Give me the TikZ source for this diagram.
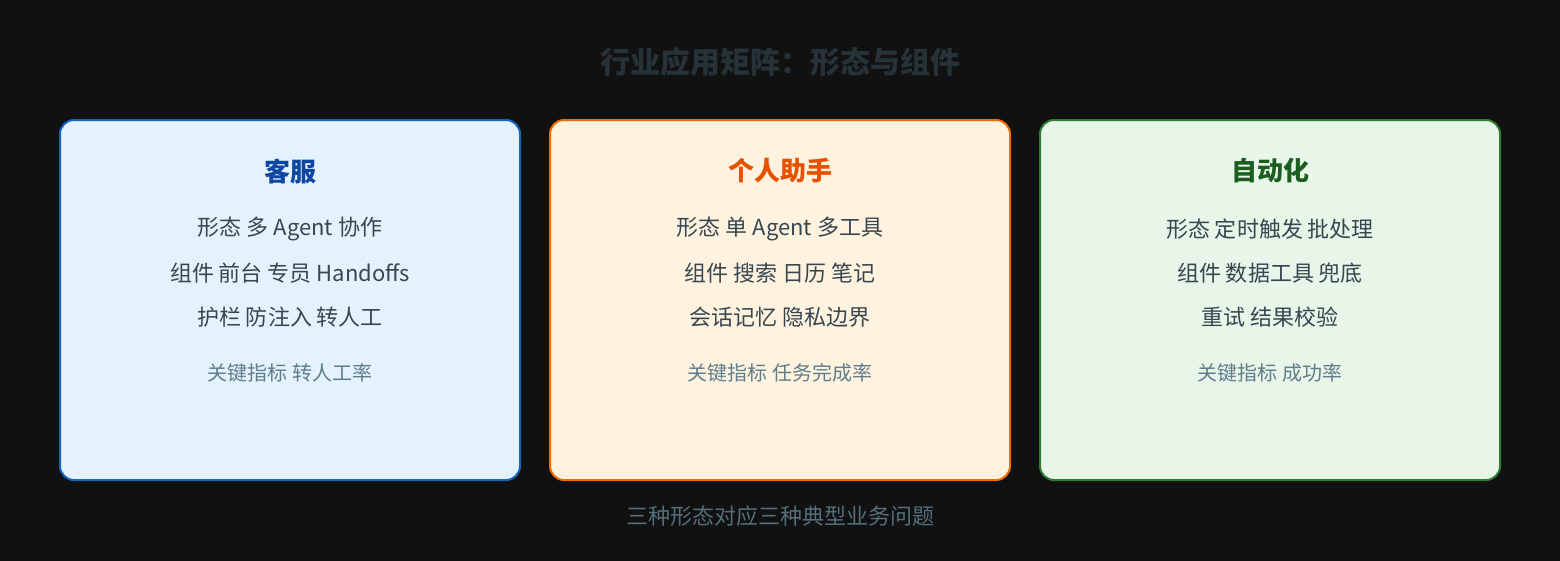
\documentclass[tikz,border=0pt]{standalone}
\usepackage{fontspec}
\setmainfont{Noto Sans CJK SC}
\definecolor{bgc}{HTML}{111111}
\definecolor{titlec}{HTML}{263238}
\definecolor{fillA}{HTML}{E3F2FD}
\definecolor{drawA}{HTML}{1565C0}
\definecolor{headA}{HTML}{0D47A1}
\definecolor{fillB}{HTML}{FFF3E0}
\definecolor{drawB}{HTML}{EF6C00}
\definecolor{headB}{HTML}{E65100}
\definecolor{fillC}{HTML}{E8F5E9}
\definecolor{drawC}{HTML}{2E7D32}
\definecolor{headC}{HTML}{1B5E20}
\definecolor{bodyc}{HTML}{37474F}
\definecolor{metricc}{HTML}{607D8B}
\definecolor{footc}{HTML}{546E7A}
\tikzset{
  card/.style={rounded corners=14pt, line width=2pt, minimum width=460pt, minimum height=360pt, inner sep=0pt},
  headtxt/.style={font=\fontsize{26}{30}\selectfont\bfseries, anchor=center, inner sep=0pt},
  bodytxt/.style={font=\fontsize{22}{26}\selectfont, text=bodyc, anchor=center, inner sep=0pt},
  metrictxt/.style={font=\fontsize{20}{24}\selectfont, text=metricc, anchor=center, inner sep=0pt},
}
\begin{document}
\begin{tikzpicture}[x=1pt,y=-1pt]
\useasboundingbox (0,0) rectangle (1560,560);
\fill[bgc] (-10,-10) rectangle (1570,570);
\node[font=\fontsize{30}{34}\selectfont\bfseries, text=titlec, inner sep=0pt] (title) at (780,62) {行业应用矩阵：形态与组件};

\node[card, fill=fillA, draw=drawA] (cA) at (290,300) {};
\node[card, fill=fillB, draw=drawB] (cB) at (780,300) {};
\node[card, fill=fillC, draw=drawC] (cC) at (1270,300) {};

\node[headtxt, text=headA] (hA) at (290,171) {客服};
\node[bodytxt] (a1) at (290,229) {形态 多 Agent 协作};
\node[bodytxt] (a2) at (290,273) {组件 前台 专员 Handoffs};
\node[bodytxt] (a3) at (290,317) {护栏 防注入 转人工};
\node[metrictxt] (am) at (290,373) {关键指标 转人工率};

\node[headtxt, text=headB] (hB) at (780,171) {个人助手};
\node[bodytxt] (b1) at (780,229) {形态 单 Agent 多工具};
\node[bodytxt] (b2) at (780,273) {组件 搜索 日历 笔记};
\node[bodytxt] (b3) at (780,317) {会话记忆 隐私边界};
\node[metrictxt] (bm) at (780,373) {关键指标 任务完成率};

\node[headtxt, text=headC] (hC) at (1270,171) {自动化};
\node[bodytxt] (c1) at (1270,229) {形态 定时触发 批处理};
\node[bodytxt] (c2) at (1270,273) {组件 数据工具 兜底};
\node[bodytxt] (c3) at (1270,317) {重试 结果校验};
\node[metrictxt] (cm) at (1270,373) {关键指标 成功率};

\node[font=\fontsize{22}{26}\selectfont, text=footc, inner sep=0pt] (foot) at (780,516) {三种形态对应三种典型业务问题};
\end{tikzpicture}
\end{document}
